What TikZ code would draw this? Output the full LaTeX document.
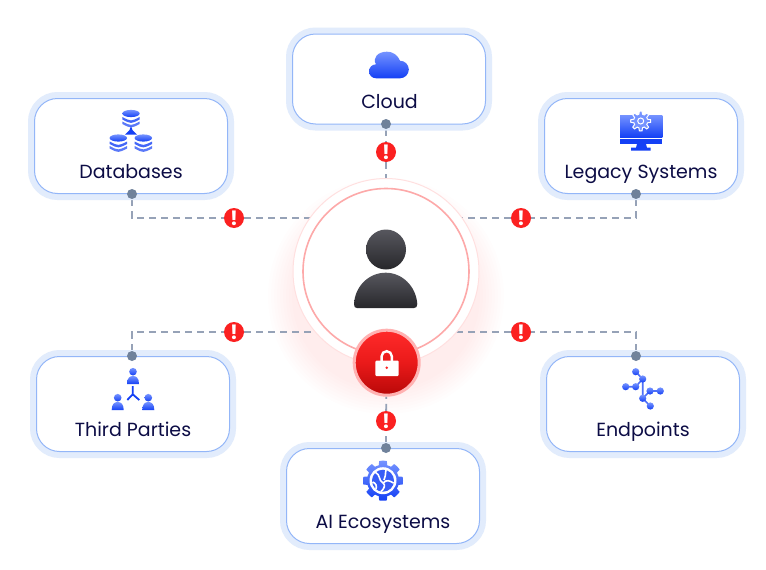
\documentclass[tikz,border=0pt]{standalone}
\usepackage{fontspec}
\setmainfont{Poppins}
\usepackage{tikz}
\pgfdeclarelayer{background}
\pgfdeclarelayer{main}
\pgfsetlayers{background,main}
\usetikzlibrary{arrows.meta, positioning, shapes.misc}
\definecolor{cardline}{HTML}{93B6F8}
\definecolor{cardhalo}{HTML}{E2ECFC}
\definecolor{textnavy}{HTML}{0C0C45}
\definecolor{linkgray}{HTML}{96A2B7}
\definecolor{dotgray}{HTML}{70829B}
\definecolor{warnred}{HTML}{FB2121}
\definecolor{iconlight}{HTML}{7593FF}
\definecolor{icondark}{HTML}{1440F5}
\definecolor{ringred}{HTML}{FDA9A9}
\definecolor{personlight}{HTML}{57575E}
\definecolor{persondark}{HTML}{27272B}
\definecolor{locklight}{HTML}{FF2A2A}
\definecolor{lockmid}{HTML}{EA1A1A}
\definecolor{lockdark}{HTML}{B80808}

\begin{document}
\begin{tikzpicture}[
    x=1pt, y=-1pt,
    every node/.style={font=\fontsize{19}{21}\selectfont, text=textnavy},
    cardbox/.style={rectangle, rounded corners=23pt, draw=cardline, fill=white, line width=1pt, inner sep=0pt, outer sep=0pt, minimum width=193pt, minimum height=95pt, preaction={draw=cardhalo, line width=13pt}},
    cardtext/.style={inner sep=0pt, anchor=base},
    enddot/.style={circle, fill=dotgray, inner sep=0pt, minimum size=10pt},
    warnbadge/.style={circle, fill=warnred, inner sep=0pt, minimum size=20pt, text=white, font=\fontsize{20}{20}\selectfont\bfseries},
    linkdash/.style={draw=linkgray, line width=1.8pt, dash pattern=on 7pt off 5pt},
    iconfill/.style={top color=iconlight, bottom color=icondark, draw=none},
    darkfill/.style={top color=personlight, bottom color=persondark, draw=none},
]
\useasboundingbox (0,0) rectangle (766,570);
% Hub
\node[circle, draw=red!12, fill=white, line width=1pt, inner sep=0pt, minimum size=186pt] (hub) at (386,271.5) {};
\node[circle, draw=ringred, line width=1.6pt, inner sep=0pt, minimum size=166pt] (hubring) at (386,271.5) {};
\shade[darkfill] (386,249.5) circle (20pt);
\shade[darkfill] (354,304) .. controls (355,286) and (369,272.7) .. (385.7,272.7) .. controls (402,272.7) and (416,286) .. (417.3,304) .. controls (417.3,307) and (416,308) .. (414,308) -- (357,308) .. controls (355,308) and (354,307) .. (354,304) -- cycle;
% Lock
\node[circle, draw=red!30, line width=3pt, top color=locklight, bottom color=lockdark, middle color=lockmid, inner sep=0pt, minimum size=65pt] (lock) at (386.7,362.7) {};
\draw[white, line width=2.4pt] (381.6,362) -- (381.6,356.3) arc (180:0:5.1pt) -- (391.8,362);
\fill[white, rounded corners=1pt] (375.3,360.7) rectangle (398.7,376);
\fill[warnred] (386.7,367.7) circle (1.4pt);
% Cards
\node[cardbox, minimum height=90pt] (cloudcard) at (389,79) {};
\node[cardbox] (dbcard) at (131,146) {};
\node[cardbox] (legacycard) at (641,146) {};
\node[cardbox] (thirdcard) at (133,404) {};
\node[cardbox] (endcard) at (643,404) {};
\node[cardbox] (aicard) at (383,496) {};
\node[cardtext] (cloudtext) at (389.5,108.3) {Cloud};
\node[cardtext] (dbtext) at (131,178) {Databases};
\node[cardtext] (legacytext) at (641,178) {Legacy Systems};
\node[cardtext] (thirdtext) at (133,436) {Third Parties};
\node[cardtext] (endtext) at (643,436) {Endpoints};
\node[cardtext] (aitext) at (383,528) {AI Ecosystems};
% Dots and badges
\node[enddot] (clouddot) at (386,124) {};
\node[enddot] (dbdot) at (132,194) {};
\node[enddot] (legacydot) at (636,194) {};
\node[enddot] (thirddot) at (132,356) {};
\node[enddot] (enddotb) at (636,356) {};
\node[enddot] (aidot) at (386,448) {};
\node[warnbadge] (cloudwarn) at (386,152) {!};
\node[warnbadge] (dbwarn) at (234,218) {!};
\node[warnbadge] (legacywarn) at (521,218) {!};
\node[warnbadge] (thirdwarn) at (234,332) {!};
\node[warnbadge] (endwarn) at (521,332) {!};
\node[warnbadge] (aiwarn) at (386,421) {!};
% Glow and connectors go under everything
\begin{pgfonlayer}{background}
\fill[white] (0,0) rectangle (766,570);
\foreach \r in {94,97,...,118} {
    \fill[red, opacity=0.007] (386,296) circle (\r pt);
}
\draw[linkdash] (clouddot) -- (cloudwarn);
\draw[linkdash] (cloudwarn) -- (hub);
\draw[linkdash] (dbdot) |- (dbwarn);
\draw[linkdash] (dbwarn) -- (dbwarn -| hub);
\draw[linkdash] (legacydot) |- (legacywarn);
\draw[linkdash] (legacywarn) -- (legacywarn -| hub);
\draw[linkdash] (thirddot) |- (thirdwarn);
\draw[linkdash] (thirdwarn) -- (thirdwarn -| hub);
\draw[linkdash] (enddotb) |- (endwarn);
\draw[linkdash] (endwarn) -- (endwarn -| hub);
\draw[linkdash] (aidot) -- (aiwarn);
\draw[linkdash] (aiwarn) -- (lock);
\end{pgfonlayer}
% Cloud icon
\shade[iconfill] (376,78.3) arc (270:90:7pt) .. controls (372,58) and (378,51.7) .. (386.7,51.7) .. controls (394,51.7) and (398,56) .. (400,60.7) arc (90:-90:8.8pt) -- cycle;
% Database icon
\foreach \cx/\cy in {131/113.5, 118.3/138, 143.3/138} {
    \shade[iconfill] (\cx,\cy) ellipse (8.7pt and 3.6pt);
    \fill[icondark!80!white] (\cx-8.7,\cy+3.5) .. controls (\cx,\cy+8) .. (\cx+8.7,\cy+3.5) -- (\cx+8.7,\cy+6) .. controls (\cx,\cy+10.5) .. (\cx-8.7,\cy+6) -- cycle;
    \fill[icondark!70!white] (\cx-8.7,\cy+8) .. controls (\cx,\cy+12.5) .. (\cx+8.7,\cy+8) -- (\cx+8.7,\cy+10.5) .. controls (\cx,\cy+15) .. (\cx-8.7,\cy+10.5) -- cycle;
}
\fill[icondark] (131,126) .. controls (132,130) .. (137,134.5) -- (125,134.5) .. controls (130,130) .. (131,126) -- cycle;
% Monitor icon
\shade[iconfill] (620,115) rectangle (662.3,137.3);
\fill[icondark] (620,139.3) rectangle (662.3,144);
\fill[icondark] (637,144) -- (646,144) -- (647,147.7) -- (650.7,147.7) -- (650.7,150.7) -- (631,150.7) -- (631,147.7) -- (636,147.7) -- cycle;
\filldraw[fill=iconlight, draw=white, line width=1pt] plot[domain=0:352.5, samples=48] ({640.7+(8.5+1.5*sign(cos(8*\x)+0.3))*cos(\x)},{121+(8.5+1.5*sign(cos(8*\x)+0.3))*sin(\x)}) -- cycle;
\draw[white, line width=1pt] (640.7,121) circle (3pt);
% Third parties icon
\foreach \cx/\cy in {133/371.7, 117.7/397.7, 148.3/397.7} {
    \shade[iconfill] (\cx,\cy) circle (3.8pt);
    \shade[iconfill] (\cx-6,\cy+12.3) .. controls (\cx-6,\cy+6) and (\cx-3,\cy+4.3) .. (\cx,\cy+4.3) .. controls (\cx+3,\cy+4.3) and (\cx+6,\cy+6) .. (\cx+6,\cy+12.3) -- cycle;
}
\draw[icondark, line width=1.8pt] (132.7,386) -- (132.7,394.3) (127.3,400) -- (132.7,394.3) -- (139.3,400);
% Endpoints icon
\draw[icondark!75!white, line width=1.6pt] (635.7,371.7) -- (642.7,379) -- (635.7,386.7) -- (625.7,386.7) (642.7,379) -- (642.7,398.3) -- (650,391) -- (660.3,391) (642.7,398.3) -- (650.3,406);
\foreach \cx/\cy in {635.7/371.7, 642.7/379, 625.7/386.7, 635.7/386.7, 650/391, 660.3/391, 642.7/398.3, 650.3/406} {
    \shade[iconfill] (\cx,\cy) circle (3.6pt);
}
% AI gear icon
\shade[iconfill] plot[domain=0:356.25, samples=96] ({383+(18+2*sign(cos(8*\x)+0.3))*cos(\x)},{480.7+(18+2*sign(cos(8*\x)+0.3))*sin(\x)}) -- cycle;
\fill[white] (383,480.7) circle (13.5pt);
\fill[icondark!85!white] (383,480.7) circle (11pt);
\draw[white, line width=1.6pt] (375,472) .. controls (381,475) and (378,480) .. (383,483) .. controls (386,485) and (384,489) .. (381,491.5) (383,483) .. controls (387,479) and (390,481) .. (393.5,483) (386,470) .. controls (385,474) and (386,477) .. (384,480) (372.5,482) .. controls (376,483) and (377,486) .. (376,489);
\end{tikzpicture}
\end{document}
